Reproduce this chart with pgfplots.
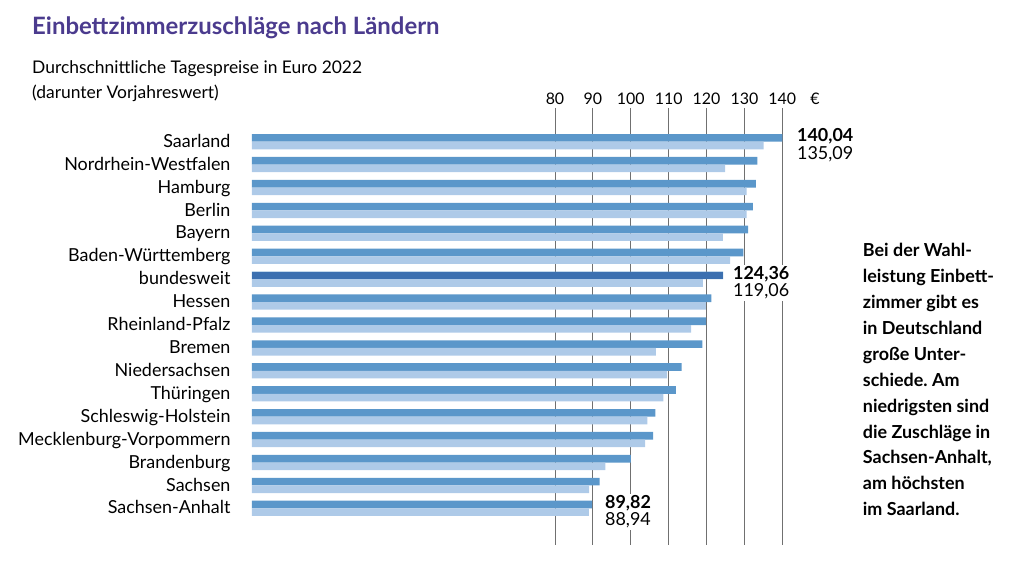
\documentclass[border=0pt]{standalone}
\usepackage{fontspec}
\setmainfont{Lato}
\usepackage{pgfplots}
\pgfplotsset{compat=1.18}
\usepackage{pgfplotstable}
\frenchspacing

\definecolor{darkbar}{HTML}{5B97CA}
\definecolor{lightbar}{HTML}{AECAE8}
\definecolor{natbar}{HTML}{3C70B0}
\definecolor{titlecol}{HTML}{4B3B8E}
\definecolor{gridcol}{HTML}{707070}

\pgfplotstableread{
idx v22 v21
0 140.04 135.09
1 133.4 124.9
2 133.0 130.6
3 132.2 130.6
4 131.0 124.3
5 129.7 126.2
6 124.36 119.06
7 121.3 119.8
8 119.9 115.9
9 118.9 106.6
10 113.4 109.6
11 111.9 108.6
12 106.5 104.4
13 105.9 103.8
14 100.0 93.3
15 91.8 89.0
16 89.82 88.94
}\data

\begin{document}
\frenchspacing
\begin{tikzpicture}
\useasboundingbox (0,0) rectangle (1024bp,568bp);
\node[anchor=base west, inner sep=0pt, font=\fontsize{24}{28}\selectfont\bfseries, text=titlecol] at (32bp,533bp) {Einbettzimmerzuschläge nach Ländern};
\node[anchor=base west, inner sep=0pt, font=\fontsize{17.5}{21}\selectfont] at (32bp,494bp) {Durchschnittliche Tagespreise in Euro 2022};
\node[anchor=base west, inner sep=0pt, font=\fontsize{17.5}{21}\selectfont] at (32bp,469bp) {(darunter Vorjahreswert)};
\foreach \t [count=\i] in {{Bei der Wahl-},{leistung Einbett-},{zimmer gibt es},{in Deutschland},{große Unter-},{schiede. Am},{niedrigsten sind},{die Zuschläge in},{Sachsen-Anhalt,},{am höchsten},{im Saarland.}}
  \node[anchor=base west, inner sep=0pt, font=\fontsize{18}{22}\selectfont\bfseries] at (862.7bp,{(311.3-(\i-1)*25.9)*1bp}) {\t};
\begin{axis}[
  scale only axis, width=568.3bp, height=437bp,
  anchor=south west, at={(251.9bp,23bp)},
  xmin=0, xmax=150, ymin=-1.47, ymax=17.60, y dir=reverse,
  axis line style={draw=none}, tick style={draw=none},
  xtick={80,90,...,140}, xticklabel pos=upper,
  xmajorgrids, grid style={gridcol, line width=0.9bp},
  extra x ticks={148.6}, extra x tick labels={€}, extra x tick style={grid=none},
  /pgf/number format/assume math mode=true,
  xticklabel style={font=\fontsize{16}{20}\selectfont, inner sep=0pt, yshift=3bp},
  ytick={0,...,16},
  yticklabels={Saarland,Nordrhein-Westfalen,Hamburg,Berlin,Bayern,Baden-Württemberg,bundesweit,Hessen,Rheinland-Pfalz,Bremen,Niedersachsen,Thüringen,Schleswig-Holstein,Mecklenburg-Vorpommern,Brandenburg,Sachsen,Sachsen-Anhalt},
  yticklabel style={font=\fontsize{18}{22}\selectfont, inner sep=0pt, anchor=base east, xshift=-17bp, yshift=-5.6bp},
  xbar, bar shift=0pt, bar width=7.6bp,
  clip=false,
]
\addplot[draw=none, fill=darkbar] table[x=v22, y expr=\thisrow{idx}-0.166] {\data};
\addplot[draw=none, fill=lightbar] table[x=v21, y expr=\thisrow{idx}+0.166] {\data};
\addplot[draw=none, fill=natbar] coordinates {(124.36,5.834)};
\node[anchor=base west, fill=white, inner sep=1.5bp, xshift=-1.5bp, font=\fontsize{18}{22}\selectfont\bfseries] at (axis cs:143.86,0) {140,04};
\node[anchor=base west, fill=white, inner sep=1.5bp, xshift=-1.5bp, yshift=-17.5bp, font=\fontsize{18}{22}\selectfont] at (axis cs:143.86,0) {135,09};
\node[anchor=base west, fill=white, inner sep=1.5bp, xshift=-1.5bp, font=\fontsize{18}{22}\selectfont\bfseries] at (axis cs:126.97,6) {124,36};
\node[anchor=base west, fill=white, inner sep=1.5bp, xshift=-1.5bp, yshift=-17.5bp, font=\fontsize{18}{22}\selectfont] at (axis cs:126.97,6) {119,06};
\node[anchor=base west, fill=white, inner sep=1.5bp, xshift=-1.5bp, font=\fontsize{18}{22}\selectfont\bfseries] at (axis cs:93.19,16) {89,82};
\node[anchor=base west, fill=white, inner sep=1.5bp, xshift=-1.5bp, yshift=-17.5bp, font=\fontsize{18}{22}\selectfont] at (axis cs:93.19,16) {88,94};
\end{axis}
\end{tikzpicture}
\end{document}
